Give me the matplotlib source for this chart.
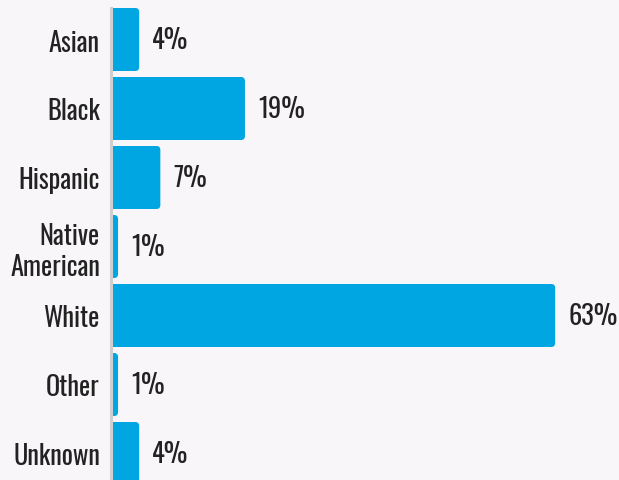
import matplotlib
matplotlib.use("Agg")
import matplotlib.pyplot as plt
from matplotlib.patches import FancyBboxPatch
from matplotlib import font_manager as fm

categories = ["Asian", "Black", "Hispanic", "Native\nAmerican", "White", "Other", "Unknown"]
values = [4, 19, 7, 1, 63, 1, 4]
value_labels = ["4%", "19%", "7%", "1%", "63%", "1%", "4%"]

names = {f.name for f in fm.fontManager.ttflist}
fams = [n for n in ["Oswald", "Roboto Condensed", "Barlow Condensed", "DejaVu Sans"] if n in names]
plt.rcParams['font.family'] = fams

BG = "#F9F6FA"
BAR = "#00A6E1"
TXT = "#222222"
FS = 19

W, H = 619, 481
fig = plt.figure(figsize=(W / 100, H / 100), dpi=100, facecolor=BG)
left_px, top_px = 111, 9
ax = fig.add_axes([left_px / W, 0, (W - left_px) / W, (H - top_px) / H])
ax.set_facecolor(BG)

ypos = list(range(len(categories)))
bars = ax.barh(ypos, values, height=0.913, color=BAR)

px_x = 7.05   # pixels per percent
px_y = 69.0   # pixels per category
ax.set_xlim(0, (W - left_px) / px_x)
ax.set_ylim((H - 40.5) / px_y, (top_px - 40.5) / px_y)

r_px = 4
for b in bars:
    x0, y0 = b.get_x(), b.get_y()
    w, h = b.get_width(), b.get_height()
    b.set_visible(False)
    ext = 1.0
    p = FancyBboxPatch((x0 - ext, y0), w + ext, h,
                       boxstyle=f"round,pad=0,rounding_size={r_px / px_x}",
                       mutation_aspect=(px_x / px_y),
                       facecolor=BAR, edgecolor="none", zorder=2)
    ax.add_patch(p)

for i, (v, lab) in enumerate(zip(values, value_labels)):
    ax.annotate(lab, (v, i), xytext=(13, 0), textcoords="offset pixels",
                ha="left", va="center", fontsize=FS, color=TXT)

ax.set_yticks(ypos)
ax.set_yticklabels(categories, fontsize=FS, color=TXT, linespacing=1.2)
ax.tick_params(axis="y", length=0, pad=8)
ax.set_xticks([])
for s in ["top", "right", "bottom"]:
    ax.spines[s].set_visible(False)
ax.spines["left"].set_color("#CFCFCF")
ax.spines["left"].set_linewidth(2.2)
ax.spines["left"].set_zorder(3)

fig.savefig("out.png", dpi=100, facecolor=BG)
